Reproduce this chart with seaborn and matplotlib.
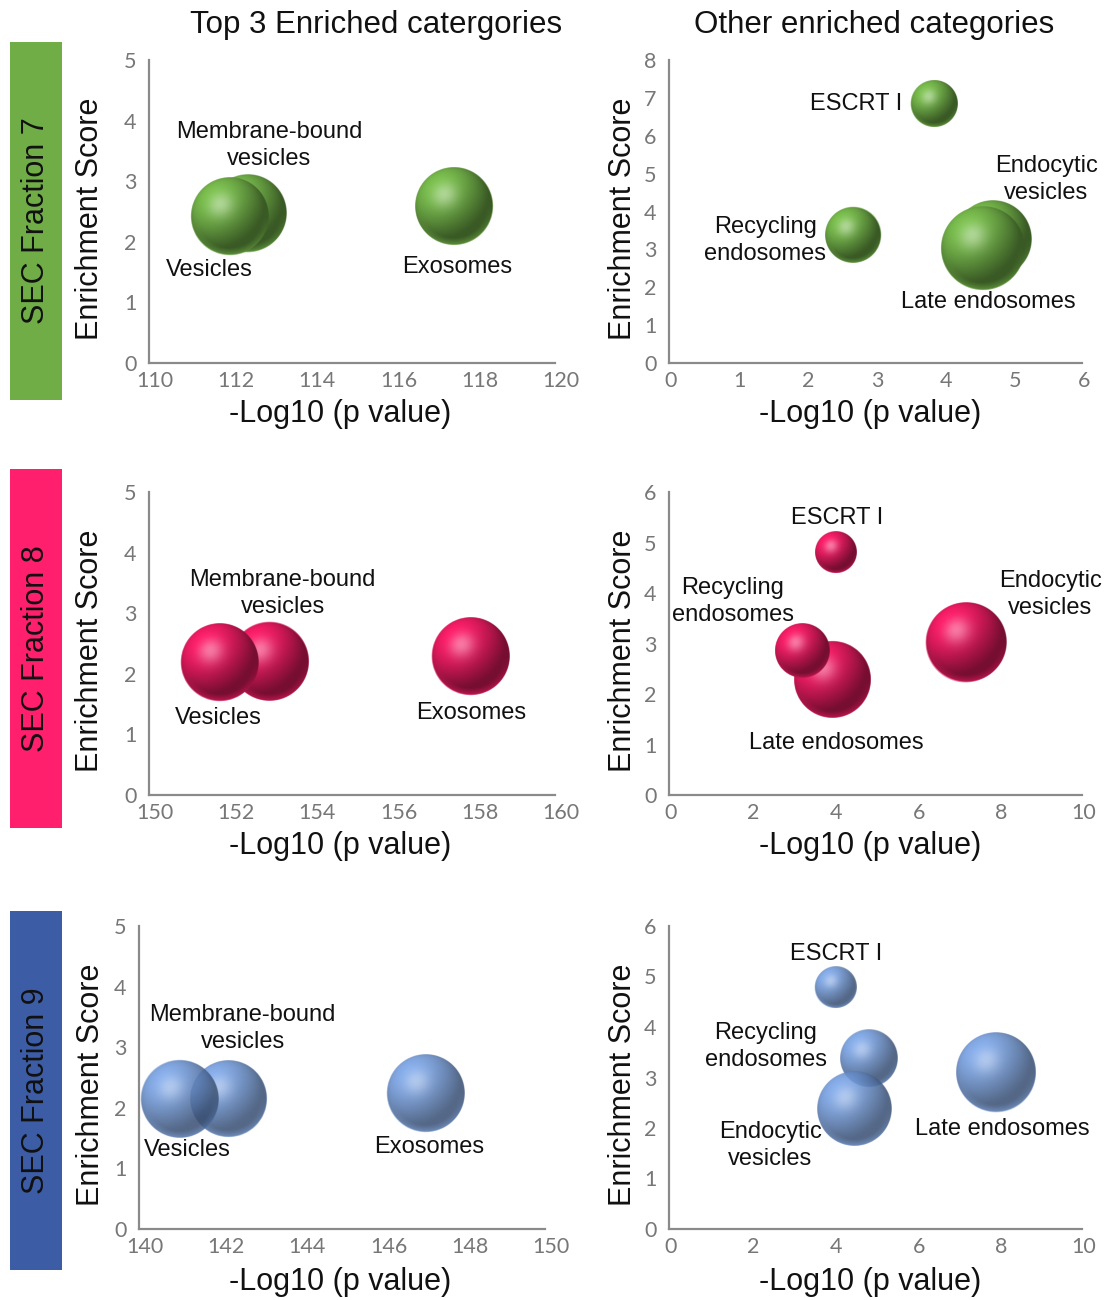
import numpy as np
import pandas as pd
import matplotlib
matplotlib.use("Agg")
import matplotlib.pyplot as plt
import matplotlib.colors as mcolors
import matplotlib.transforms as mtransforms
from matplotlib.patches import Rectangle
import seaborn as sns

# ---------------- data ----------------
fractions = ["SEC Fraction 7", "SEC Fraction 8", "SEC Fraction 9"]
column_titles = ["Top 3 Enriched catergories", "Other enriched categories"]

# Fraction 7
f7_top_cat = ["Membrane-bound vesicles", "Vesicles", "Exosomes"]
f7_top_logp = [112.42, 111.99, 117.52]
f7_top_score = [2.46, 2.42, 2.59]
f7_top_size = [93, 95, 95]

f7_other_cat = ["Endocytic vesicles", "Late endosomes", "Recycling endosomes", "ESCRT I"]
f7_other_logp = [4.70, 4.56, 2.68, 3.85]
f7_other_score = [3.27, 3.03, 3.39, 6.85]
f7_other_size = [93, 110, 49, 34.5]

# Fraction 8
f8_top_cat = ["Membrane-bound vesicles", "Vesicles", "Exosomes"]
f8_top_logp = [152.97, 151.74, 157.92]
f8_top_score = [2.21, 2.19, 2.29]
f8_top_size = [97.5, 95, 95]

f8_other_cat = ["Late endosomes", "Recycling endosomes", "Endocytic vesicles", "ESCRT I"]
f8_other_logp = [3.96, 3.22, 7.18, 4.04]
f8_other_score = [2.29, 2.86, 3.02, 4.80]
f8_other_size = [92.6, 45.6, 100, 26.3]

# Fraction 9
f9_top_cat = ["Membrane-bound vesicles", "Vesicles", "Exosomes"]
f9_top_logp = [142.21, 141.00, 147.06]
f9_top_score = [2.15, 2.15, 2.24]
f9_top_size = [92.6, 95, 95]

f9_other_cat = ["Recycling endosomes", "Endocytic vesicles", "Late endosomes", "ESCRT I"]
f9_other_logp = [4.84, 4.49, 7.92, 4.02]
f9_other_score = [3.37, 2.38, 3.10, 4.78]
f9_other_size = [50.8, 85.6, 100, 26.3]

# axis ranges
top_xlims = [(110, 120), (150, 160), (140, 150)]
other_xlims = [(0, 6), (0, 10), (0, 10)]
other_xstep = [1, 2, 2]
other_ylims = [(0, 8), (0, 6), (0, 6)]

# ---------------- styling / layout ----------------
W, H, DPI = 1109, 1300, 100
fraction_colors = ["#70AD47", "#FF1F6C", "#3C5DA6"]
bubble_colors = ["#74B44A", "#EC1C62", "#7099DA"]
bubble_alpha = [1.0, 1.0, 0.8]

row_px = [(60, 363), (492, 795), (926, 1229)]          # (top, bottom)
left_col_px = [149, 149, 139]
left_w_px = 406
right_col_px = 669
right_w_px = 413
box_px = [(42, 400), (469, 828), (911, 1270)]

line_label = {
    "Membrane-bound vesicles": "Membrane-bound\nvesicles",
    "Recycling endosomes": "Recycling\nendosomes",
    "Endocytic vesicles": "Endocytic\nvesicles",
}

# label offsets in pixels from each bubble centre
label_offsets = [
    ({"Membrane-bound vesicles": (22, 68), "Vesicles": (-20, -54), "Exosomes": (3, -61)},
     {"ESCRT I": (-78, 0), "Recycling endosomes": (-88, -6),
      "Endocytic vesicles": (54, 60), "Late endosomes": (5, -54)}),
    ({"Membrane-bound vesicles": (13, 68), "Vesicles": (-1, -56), "Exosomes": (1, -57)},
     {"ESCRT I": (1, 35), "Recycling endosomes": (-69, 49),
      "Late endosomes": (4, -64), "Endocytic vesicles": (85, 48)}),
    ({"Membrane-bound vesicles": (14, 70), "Vesicles": (8, -51), "Exosomes": (4, -54)},
     {"ESCRT I": (1, 34), "Recycling endosomes": (-103, 12),
      "Endocytic vesicles": (-84, -37), "Late endosomes": (6, -57)}),
]

R_PX_AT_100 = 40.0                       # bubble radius (px) for a size value of 100
S_AT_100 = (2 * R_PX_AT_100 * 72 / DPI) ** 2

sns.set_theme(style="white")
plt.rcParams["font.family"] = ["Liberation Sans", "DejaVu Sans"]
TICK_FONT = ["Lato", "DejaVu Sans"]
AXIS_GRAY = "#8a8a8a"
TICK_GRAY = "#777777"


def sphere_image(color, alpha, n=240):
    """RGBA image of a lit glossy sphere in the given colour."""
    base = np.array(mcolors.to_rgb(color))
    t = np.linspace(-1, 1, n)
    u, v = np.meshgrid(t, t)
    d = np.sqrt(u ** 2 + v ** 2)
    z = np.sqrt(np.clip(1 - d ** 2, 0, 1))
    L = np.array([-0.45, 0.55, 0.70])
    L /= np.linalg.norm(L)
    diff = np.clip(u * L[0] + v * L[1] + z * L[2], 0, 1)
    Hv = L + np.array([0, 0, 1.0])
    Hv /= np.linalg.norm(Hv)
    spec = np.clip(u * Hv[0] + v * Hv[1] + z * Hv[2], 0, 1) ** 18
    shade = 0.50 + 0.58 * diff ** 1.3
    rgb = base[None, None, :] * shade[..., None]
    rgb = rgb + (1 - rgb) * (0.40 * spec)[..., None]
    # soft light bounce along the lower rim
    rim = np.clip(d - 0.82, 0, 0.18) / 0.18 * np.clip(-v, 0, 1)
    rgb = rgb + (base[None, None, :] - rgb) * (0.6 * rim)[..., None]
    rgb = np.clip(rgb, 0, 1)
    a = np.clip((1 - d) * n / 2.0, 0, 1) * alpha
    return np.dstack([rgb, a])


def style_axes(ax, xlim, xticks, ylim, xlabel_shift_px):
    ax.set_xlim(*xlim)
    ax.set_ylim(*ylim)
    ax.set_xticks(xticks)
    ax.set_yticks(np.arange(ylim[0], ylim[1] + 1, 1))
    sns.despine(ax=ax)
    for sp in ("left", "bottom"):
        ax.spines[sp].set_color(AXIS_GRAY)
        ax.spines[sp].set_linewidth(1.6)
    ax.tick_params(axis="both", length=0, labelcolor=TICK_GRAY, labelsize=15.5)
    ax.tick_params(axis="x", pad=6)
    ax.tick_params(axis="y", pad=9)
    shift = mtransforms.ScaledTranslation(xlabel_shift_px / DPI, 0, ax.figure.dpi_scale_trans)
    for lab in ax.get_xticklabels():
        lab.set_fontfamily(TICK_FONT)
        lab.set_transform(lab.get_transform() + shift)
    for lab in ax.get_yticklabels():
        lab.set_fontfamily(TICK_FONT)
    ax.grid(False)


def bubble_panel(ax, cats, xs, ys, sizes, color, alpha, offsets, xlim, xticks, ylim,
                 xlab_pos, ylab_pos, xlabel_shift_px):
    df = pd.DataFrame({"category": cats, "logp": xs, "score": ys, "size": sizes})
    sns.scatterplot(data=df, x="logp", y="score", size="size",
                    sizes=(0, S_AT_100 * 1.2), size_norm=(0, 120),
                    color=color, alpha=alpha * 0.5, linewidth=0, legend=False,
                    ax=ax, zorder=2)
    style_axes(ax, xlim, xticks, ylim, xlabel_shift_px)

    coll = ax.collections[-1]
    offs = coll.get_offsets()
    svals = coll.get_sizes()
    img = sphere_image(color, alpha)
    for i, (cat, (x, y), s) in enumerate(zip(df["category"], offs, svals)):
        r_px = np.sqrt(s) / 2 * DPI / 72
        p0 = ax.transData.transform((x, y))
        x1, y1 = ax.transData.inverted().transform(p0 + r_px)
        dx, dy = x1 - x, y1 - y
        ax.imshow(img, extent=[x - dx, x + dx, y - dy, y + dy], origin="lower",
                  aspect="auto", interpolation="bilinear", zorder=3 + i)
        ax.annotate(line_label.get(cat, cat), xy=(x, y), xytext=offsets[cat],
                    textcoords="offset pixels", ha="center", va="center",
                    fontsize=17, color="#111111", linespacing=1.3, zorder=20)
    ax.set_xlim(*xlim)
    ax.set_ylim(*ylim)

    ax.set_xlabel("-Log10 (p value)", fontsize=22, color="#111111", va="center")
    ax.xaxis.set_label_coords(*xlab_pos)
    ax.set_ylabel("Enrichment Score", fontsize=22, color="#111111", va="center")
    ax.yaxis.set_label_coords(*ylab_pos)


fig = plt.figure(figsize=(W / DPI, H / DPI), dpi=DPI)

top_sets = [
    (f7_top_cat, f7_top_logp, f7_top_score, f7_top_size),
    (f8_top_cat, f8_top_logp, f8_top_score, f8_top_size),
    (f9_top_cat, f9_top_logp, f9_top_score, f9_top_size),
]
other_sets = [
    (f7_other_cat, f7_other_logp, f7_other_score, f7_other_size),
    (f8_other_cat, f8_other_logp, f8_other_score, f8_other_size),
    (f9_other_cat, f9_other_logp, f9_other_score, f9_other_size),
]

for r in range(3):
    top_px, bot_px = row_px[r]
    h_px = bot_px - top_px
    h_frac = h_px / H
    b_frac = 1 - bot_px / H
    xlab_dy = -(51 + 2 * (r == 2)) / h_px

    # left column: top three categories
    lx = left_col_px[r]
    axl = fig.add_axes([lx / W, b_frac, left_w_px / W, h_frac])
    xl = top_xlims[r]
    bubble_panel(axl, *top_sets[r], bubble_colors[r], bubble_alpha[r],
                 label_offsets[r][0], xl, np.arange(xl[0], xl[1] + 1, 2), (0, 5),
                 xlab_pos=((340 - lx) / left_w_px, xlab_dy),
                 ylab_pos=((90 + (r == 2) - lx) / left_w_px, 0.475),
                 xlabel_shift_px=6)

    # right column: other categories
    axr = fig.add_axes([right_col_px / W, b_frac, right_w_px / W, h_frac])
    xo = other_xlims[r]
    bubble_panel(axr, *other_sets[r], bubble_colors[r], bubble_alpha[r],
                 label_offsets[r][1], xo, np.arange(xo[0], xo[1] + 1, other_xstep[r]),
                 other_ylims[r],
                 xlab_pos=((870 - right_col_px) / right_w_px, xlab_dy),
                 ylab_pos=((623 - right_col_px) / right_w_px, 0.475),
                 xlabel_shift_px=2)

    # coloured fraction tag on the left edge
    bt, bb = box_px[r]
    fig.patches.append(Rectangle((10 / W, 1 - bb / H), 52 / W, (bb - bt) / H,
                                 transform=fig.transFigure, facecolor=fraction_colors[r],
                                 edgecolor="none", zorder=0))
    fig.text(36 / W, 1 - (bt + bb) / 2 / H, fractions[r], rotation=90,
             ha="center", va="center", fontsize=22, color="#111111")

fig.text(376 / W, 1 - 25 / H, column_titles[0], ha="center", va="center",
         fontsize=22.5, color="#111111")
fig.text(874 / W, 1 - 25 / H, column_titles[1], ha="center", va="center",
         fontsize=22.5, color="#111111")

fig.savefig("out.png", dpi=DPI, facecolor="white")
